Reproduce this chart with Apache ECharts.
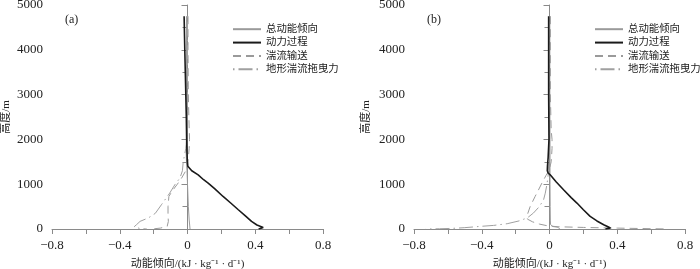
<!DOCTYPE html>
<html><head><meta charset="utf-8">
<script src="https://cdn.jsdelivr.net/npm/echarts@6/dist/echarts.min.js"></script>
<style>html,body{margin:0;padding:0;background:#fff}#c{width:700px;height:269px}</style>
</head><body><div id="c"></div>
<script>
// ---- data ----
const seriesNames = ['总动能倾向', '动力过程', '湍流输送', '地形湍流拖曳力'];
const xTicks = [-0.8, -0.4, 0, 0.4, 0.8];
const yTicks = [0, 1000, 2000, 3000, 4000, 5000];

// panel (a)
const aTotalH = [4750, 3000, 2000, 1700, 1500, 1300, 1000, 500, 200, 0];
const aTotalV = [-0.006, -0.006, -0.005, -0.008, -0.006, -0.003, 0.0, 0.005, 0.01, 0.015];
const aDynH = [4750, 4000, 3000, 2500, 2000, 1700, 1500, 1400, 1358, 1300, 1209, 1100, 1024, 900, 726, 580, 430, 300, 169, 90, 36, 15, 0];
const aDynV = [-0.02, -0.016, -0.01, -0.007, -0.005, -0.003, -0.001, 0.002, 0.009, 0.025, 0.063, 0.095, 0.122, 0.16, 0.21, 0.255, 0.30, 0.34, 0.378, 0.41, 0.447, 0.45, 0.42];
const aTurbH = [4750, 4000, 3000, 2500, 2000, 1800, 1600, 1400, 1300, 1136, 1000, 850, 726, 500, 300, 169, 60, 20, 0];
const aTurbV = [0.003, 0.003, 0.005, 0.008, 0.012, 0.01, 0.005, 0.0, -0.01, -0.035, -0.06, -0.09, -0.11, -0.115, -0.115, -0.113, -0.12, -0.16, -0.21];
const aDragH = [4750, 3000, 2000, 1800, 1600, 1470, 1300, 1136, 987, 802, 541, 350, 250, 170, 100, 50, 25, 10, 0];
const aDragV = [0, 0, -0.005, -0.01, -0.02, -0.026, -0.03, -0.045, -0.075, -0.105, -0.154, -0.19, -0.23, -0.28, -0.3, -0.315, -0.31, -0.28, -0.24];

// panel (b)
const bTotalH = [4750, 3000, 2000, 1500, 1000, 500, 200, 100, 80, 55, 40, 25, 0];
const bTotalV = [0.002, 0.002, 0.003, 0.003, 0.003, 0.004, 0.005, 0.006, 0.008, 0.02, 0.05, 0.06, 0.06];
const bDynH = [4750, 4000, 3000, 2000, 1600, 1400, 1300, 1250, 1209, 1050, 875, 700, 579, 430, 281, 180, 96, 50, 22, 8, 0];
const bDynV = [-0.005, -0.005, -0.005, -0.003, -0.008, -0.012, -0.013, -0.008, 0.004, 0.04, 0.083, 0.128, 0.162, 0.2, 0.24, 0.28, 0.32, 0.345, 0.36, 0.35, 0.33];
const bTurbH = [4750, 3000, 2200, 2000, 1800, 1500, 1300, 1200, 1024, 850, 726, 503, 350, 281, 220, 160, 110, 70, 50, 35, 20, 10, 0];
const bTurbV = [0.005, 0.005, 0.01, 0.015, 0.015, 0.01, -0.003, -0.02, -0.045, -0.068, -0.085, -0.114, -0.128, -0.134, -0.13, -0.1, -0.06, -0.01, 0.05, 0.2, 0.4, 0.55, 0.7];
const bDragH = [4750, 3000, 2000, 1500, 1200, 1000, 800, 652, 500, 356, 250, 180, 118, 80, 58, 30, 15, 5, 0];
const bDragV = [0, 0, -0.002, -0.004, -0.008, -0.015, -0.025, -0.035, -0.06, -0.095, -0.13, -0.18, -0.25, -0.33, -0.41, -0.5, -0.57, -0.65, -0.73];

// ---- build ----
const zip = (v, h) => v.map((x, i) => [x, h[i]]);
const FONT = "'Liberation Serif', 'Noto Sans CJK SC', serif";
const AX = '#8a8a8a';
const styles = [
  { color: '#9a9a9a', width: 1, type: 'solid' },
  { color: '#1a1a1a', width: 1.6, type: 'solid' },
  { color: '#9a9a9a', width: 1, type: [8, 5] },
  { color: '#a0a0a0', width: 1, type: [1.5, 4, 14, 4] }
];
const panels = [
  { total: zip(aTotalV, aTotalH), dyn: zip(aDynV, aDynH), turb: zip(aTurbV, aTurbH), drag: zip(aDragV, aDragH) },
  { total: zip(bTotalV, bTotalH), dyn: zip(bDynV, bDynH), turb: zip(bTurbV, bTurbH), drag: zip(bDragV, bDragH) }
];
const grids = [
  { left: 52, top: 5, width: 271, height: 224, outerBoundsMode: 'none', containLabel: false },
  { left: 414, top: 5, width: 271, height: 224, outerBoundsMode: 'none', containLabel: false }
];
const fmtX = v => (v < 0 ? '−' + Math.abs(v) : String(v));
const xAxes = grids.map((g, i) => ({
  type: 'value', gridIndex: i, min: xTicks[0], max: xTicks[xTicks.length - 1], interval: 0.4,
  axisLine: { show: true, lineStyle: { color: AX } },
  axisTick: { show: true, length: 5, lineStyle: { color: AX } },
  minorTick: { show: true, splitNumber: 2, length: 5, lineStyle: { color: AX } },
  splitLine: { show: false },
  axisLabel: { fontFamily: FONT, fontSize: 13, color: '#222', margin: 10, formatter: fmtX },
  name: '动能倾向/(kJ · kg⁻¹ · d⁻¹)', nameLocation: 'middle', nameGap: 30,
  nameTextStyle: { fontFamily: FONT, fontSize: 11, color: '#222' }
}));
const yAxes = grids.map((g, i) => ({
  type: 'value', gridIndex: i, min: yTicks[0], max: yTicks[yTicks.length - 1], interval: 1000,
  axisLine: { show: true, lineStyle: { color: AX } },
  axisTick: { show: true, length: 6, lineStyle: { color: AX } },
  minorTick: { show: true, splitNumber: 2, length: 5, lineStyle: { color: AX } },
  splitLine: { show: false },
  axisLabel: { fontFamily: FONT, fontSize: 13, color: '#222', margin: 9, formatter: v => String(v) },
  name: '高度/m', nameLocation: 'middle', nameGap: i === 0 ? 40 : 42,
  nameTextStyle: { fontFamily: FONT, fontSize: 11, color: '#222' }
}));
const series = [];
panels.forEach((p, i) => {
  [p.total, p.dyn, p.turb, p.drag].forEach((d, k) => {
    series.push({
      type: 'line', name: seriesNames[k], xAxisIndex: i, yAxisIndex: i, data: d,
      symbol: 'none', lineStyle: styles[k], itemStyle: { color: styles[k].color },
      silent: true, animation: false, z: k === 1 ? 5 : 3
    });
  });
});
const legends = [227, 589].map(l => ({
  orient: 'vertical', left: l, top: 19, itemWidth: 28, itemHeight: 10, itemGap: 3,
  data: seriesNames, itemStyle: { opacity: 0 },
  textStyle: { fontFamily: FONT, fontSize: 10.4, color: '#222' },
  selectedMode: false
}));
const chart = echarts.init(document.getElementById('c'), null, { renderer: 'canvas' });
chart.setOption({
  animation: false,
  backgroundColor: '#fff',
  grid: grids,
  xAxis: xAxes,
  yAxis: yAxes,
  legend: legends,
  title: [
    { text: '(a)', left: 60, top: 9, textStyle: { fontFamily: FONT, fontSize: 12, fontWeight: 'normal', color: '#222' } },
    { text: '(b)', left: 422, top: 9, textStyle: { fontFamily: FONT, fontSize: 12, fontWeight: 'normal', color: '#222' } }
  ],
  series: series
});
</script></body></html>
